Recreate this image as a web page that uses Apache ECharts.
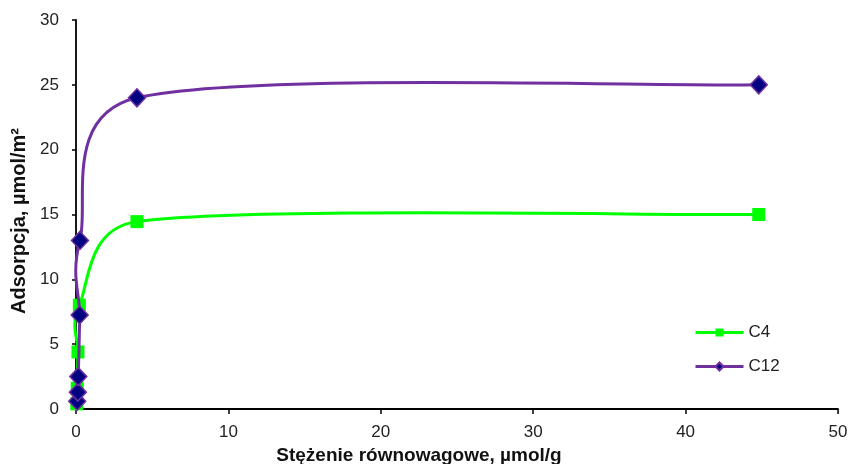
<!DOCTYPE html>
<html><head><meta charset="utf-8">
<script src="https://cdn.jsdelivr.net/npm/echarts@6/dist/echarts.min.js"></script>
<style>html,body{margin:0;padding:0;background:#fff}#c{width:848px;height:464px}</style>
</head><body><div id="c"></div>
<script>
const c4X = [0.05, 0.08, 0.13, 0.22, 4.0, 44.8];
const c4Y = [0.4, 1.6, 4.4, 8.0, 14.45, 15.0];
const c12X = [0.08, 0.12, 0.15, 0.24, 0.26, 4.0, 44.8];
const c12Y = [0.6, 1.3, 2.5, 7.25, 13.0, 24.0, 25.0];
const seriesNames = ['C4', 'C12'];
const xTitle = 'Stężenie równowagowe, µmol/g';
const yTitle = 'Adsorpcja, µmol/m²';
const colC4 = '#00ff00';
const colC12 = '#7030a0';

const font = 'Liberation Sans, Arial, sans-serif';

// Excel-like smoothed curve built from the axes' own coordinate mapping
function smoothCurve(xs, ys, color) {
  return function (params, api) {
    if (params.dataIndex !== 0) return {type: 'group', children: []};
    const pts = xs.map((x, i) => api.coord([x, ys[i]]));
    const n = pts.length;
    const children = [];
    const cap = (v, m) => {
      const l = Math.hypot(v[0], v[1]);
      if (l > m && l > 0) return [v[0] * m / l, v[1] * m / l];
      return v;
    };
    for (let i = 0; i < n - 1; i++) {
      const p0 = pts[Math.max(i - 1, 0)], p1 = pts[i], p2 = pts[i + 1], p3 = pts[Math.min(i + 2, n - 1)];
      const d12 = Math.hypot(p2[0] - p1[0], p2[1] - p1[1]);
      const t1 = cap([(p2[0] - p0[0]) / 6, (p2[1] - p0[1]) / 6], d12 / 2);
      const t2 = cap([(p3[0] - p1[0]) / 6, (p3[1] - p1[1]) / 6], d12 / 2);
      children.push({
        type: 'bezierCurve',
        shape: {x1: p1[0], y1: p1[1], x2: p2[0], y2: p2[1],
                cpx1: p1[0] + t1[0], cpy1: p1[1] + t1[1],
                cpx2: p2[0] - t2[0], cpy2: p2[1] - t2[1]},
        style: {stroke: color, lineWidth: 3, fill: 'none', lineCap: 'round', lineJoin: 'round'}
      });
    }
    return {type: 'group', children};
  };
}

const chart = echarts.init(document.getElementById('c'), null, {renderer: 'canvas'});
chart.setOption({
  animation: false,
  backgroundColor: '#fff',
  grid: {left: 76, right: 10, top: 20, bottom: 55, containLabel: false, outerBoundsMode: 'none'},
  legend: {
    orient: 'vertical', left: 694, top: 324, padding: 0, itemGap: 17, itemWidth: 48, itemHeight: 10,
    textStyle: {fontFamily: font, fontSize: 17, color: '#222'},
    data: [
      {name: seriesNames[0], lineStyle: {color: colC4, width: 3, opacity: 1}},
      {name: seriesNames[1], lineStyle: {color: colC12, width: 3, opacity: 1}}
    ]
  },
  xAxis: {
    type: 'value', min: 0, max: 50, interval: 10,
    name: xTitle, nameLocation: 'middle', nameGap: 36,
    nameTextStyle: {fontFamily: font, fontSize: 19, fontWeight: 'bold', color: '#111', padding: [0, 76, 0, 0]},
    axisLine: {onZero: false, lineStyle: {color: '#000', width: 1.8}},
    axisTick: {show: true, length: 5, lineStyle: {color: '#000', width: 1.5}},
    axisLabel: {fontFamily: font, fontSize: 17, color: '#222', margin: 15},
    splitLine: {show: false}
  },
  yAxis: {
    type: 'value', min: 0, max: 30, interval: 5,
    name: yTitle, nameLocation: 'middle', nameGap: 45,
    nameTextStyle: {fontFamily: font, fontSize: 20, fontWeight: 'bold', color: '#111', padding: [0, 13, 0, 0]},
    axisLine: {show: true, lineStyle: {color: '#000', width: 1.8}},
    axisTick: {show: true, length: 4, lineStyle: {color: '#000', width: 1.5}},
    axisLabel: {fontFamily: font, fontSize: 17, color: '#222', margin: 17},
    splitLine: {show: false}
  },
  series: [
    {
      name: 'C4 curve', type: 'custom', z: 1, silent: true,
      data: c4X.map((x, i) => [x, c4Y[i]]),
      encode: {x: 0, y: 1},
      renderItem: smoothCurve(c4X, c4Y, colC4)
    },
    {
      name: seriesNames[0], type: 'line', z: 2,
      data: c4X.map((x, i) => [x, c4Y[i]]),
      symbol: 'rect', symbolSize: 13,
      lineStyle: {color: colC4, width: 3, opacity: 0},
      itemStyle: {color: colC4, borderWidth: 0}
    },
    {
      name: 'C12 curve', type: 'custom', z: 3, silent: true,
      data: c12X.map((x, i) => [x, c12Y[i]]),
      encode: {x: 0, y: 1},
      renderItem: smoothCurve(c12X, c12Y, colC12)
    },
    {
      name: seriesNames[1], type: 'line', z: 4,
      data: c12X.map((x, i) => [x, c12Y[i]]),
      symbol: 'diamond', symbolSize: [17, 18],
      lineStyle: {color: colC12, width: 3, opacity: 0},
      itemStyle: {color: '#000080', borderColor: colC12, borderWidth: 1.5}
    }
  ]
});
</script></body></html>
